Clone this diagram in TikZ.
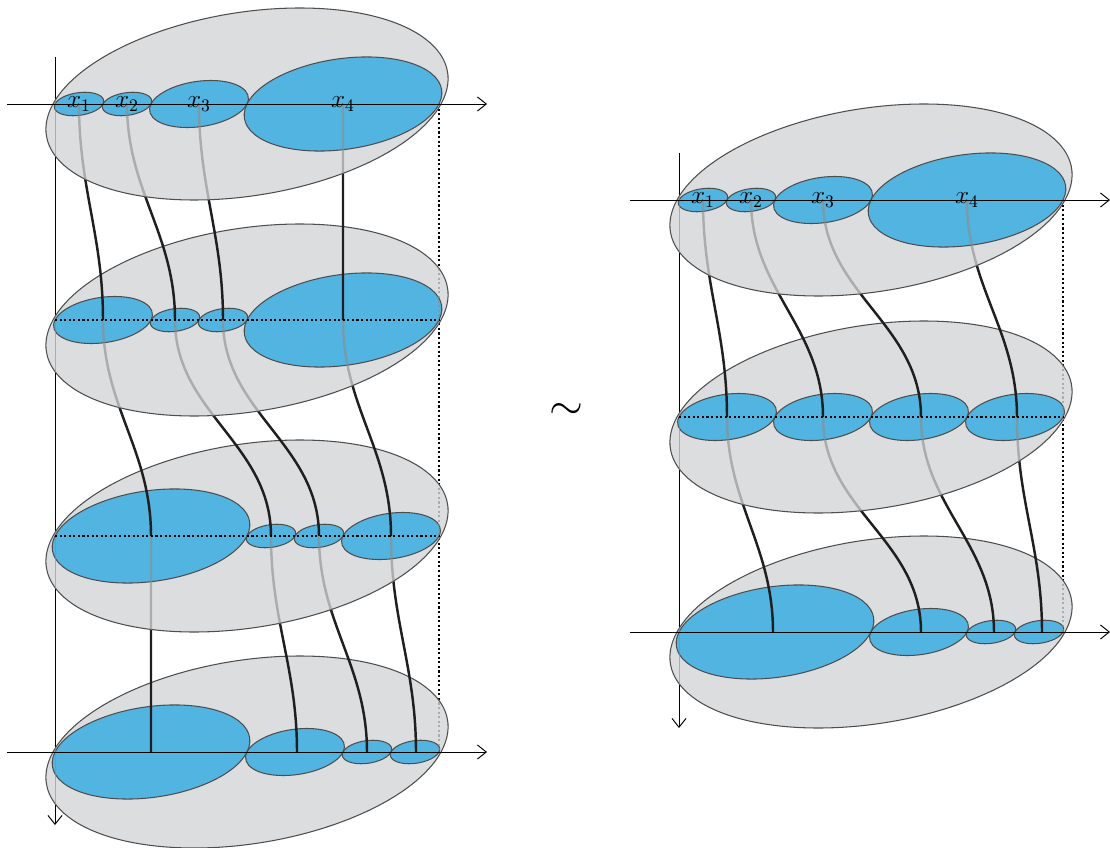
\documentclass[tikz,border=0pt]{standalone}
\usepackage{tikz}
\usetikzlibrary{arrows.meta}
\definecolor{cellblue}{RGB}{82,180,224}
\definecolor{plategray}{RGB}{220,221,223}
\definecolor{rim}{RGB}{78,78,78}
\newcommand{\drawplate}[2]{\filldraw[plate, shift={(#1,#2)}, xslant=0.55] (0,0) ellipse [x radius=194, y radius=96];}
\newcommand{\clipplate}[2]{\clip[shift={(#1,#2)}, xslant=0.55] (0,0) ellipse [x radius=194, y radius=96];}
\newcommand{\cellpatch}[3]{\filldraw[cell, shift={({(#1+#2)/2},#3)}, xslant=0.5] (0,0) ellipse [x radius={(#2-#1)/2}, y radius={0.49*(#2-#1)/2}];}
\newcommand{\fibresLa}{(p11) to[fall] (p21) (p12) to[fall] (p22) (p13) to[fall] (p23) (p14) to[fall] (p24)}
\newcommand{\fibresLb}{(p21) to[fall] (p31) (p22) to[fall] (p32) (p23) to[fall] (p33) (p24) to[fall] (p34)}
\newcommand{\fibresLc}{(p31) to[fall] (p41) (p32) to[fall] (p42) (p33) to[fall] (p43) (p34) to[fall] (p44)}
\newcommand{\fibresRa}{(q11) to[fall] (q21) (q12) to[fall] (q22) (q13) to[fall] (q23) (q14) to[fall] (q24)}
\newcommand{\fibresRb}{(q21) to[fall] (q31) (q22) to[fall] (q32) (q23) to[fall] (q33) (q24) to[fall] (q34)}
\newcommand{\seenthrough}{\draw[axis back] (lvt) -- (lvb) (rvt) -- (rvb); \draw[axis back, guide] (ldt) -- (ldb) (rdt) -- (rdb);}
\tikzset{
    plate/.style = {fill=plategray, draw=rim, line width=0.6pt},
    cell/.style = {fill=cellblue, draw=rim, line width=0.6pt},
    fall/.style = {out=-90, in=90},
    fibre/.style = {draw=black!88, line width=1.4pt},
    fibre back/.style = {draw=black!45, draw opacity=0.6, line width=1.4pt},
    arrowaxis/.style = {draw=black, line width=0.55pt, -{Straight Barb[length=5pt,width=8pt]}},
    axis back/.style = {draw=black!45, draw opacity=0.6, line width=0.55pt},
    guide/.style = {line width=0.6pt, dash pattern=on 1.2pt off 1.4pt},
    tag/.style = {font=\Large, inner sep=0pt}}
\begin{document}
\begin{tikzpicture}[x=0.02cm, y=-0.02cm]
\useasboundingbox (0,0) rectangle (1110,848);
% where the fibres meet the levels
\path (79,104) coordinate (p11) (127,104) coordinate (p12) (199,104) coordinate (p13) (343,104) coordinate (p14)
      (103,320) coordinate (p21) (175,320) coordinate (p22) (223,320) coordinate (p23) (343,320) coordinate (p24)
      (151,536) coordinate (p31) (271,536) coordinate (p32) (319,536) coordinate (p33) (391,536) coordinate (p34)
      (151,752) coordinate (p41) (297,752) coordinate (p42) (367,752) coordinate (p43) (416,752) coordinate (p44);
\path (703,200) coordinate (q11) (751,200) coordinate (q12) (823,200) coordinate (q13) (967,200) coordinate (q14)
      (727,417) coordinate (q21) (823,417) coordinate (q22) (921,417) coordinate (q23) (1017,417) coordinate (q24)
      (773,632) coordinate (q31) (921,632) coordinate (q32) (994,632) coordinate (q33) (1042,632) coordinate (q34);
% axis ends
\path (55,57) coordinate (lvt) (55,825) coordinate (lvb) (439,104) coordinate (ldt) (439,752) coordinate (ldb)
      (7,104) coordinate (lht) (487,104) coordinate (lhte) (7,752) coordinate (lhb) (487,752) coordinate (lhbe)
      (55,320) coordinate (lm2) (439,320) coordinate (lm2e) (55,536) coordinate (lm3) (439,536) coordinate (lm3e);
\path (679,153) coordinate (rvt) (679,728) coordinate (rvb) (1063,200) coordinate (rdt) (1063,632) coordinate (rdb)
      (630,200) coordinate (rht) (1110,200) coordinate (rhte) (630,632) coordinate (rhb) (1110,632) coordinate (rhbe)
      (679,417) coordinate (rm2) (1063,417) coordinate (rm2e);
\draw[arrowaxis] (lvt) -- (lvb);
\draw[arrowaxis] (rvt) -- (rvb);
\draw[guide] (ldt) -- (ldb) (rdt) -- (rdb);
% left, bottom up
\drawplate{247}{752}
\cellpatch{55}{247}{752}\cellpatch{247}{343}{752}\cellpatch{343}{391}{752}\cellpatch{391}{439}{752}
\begin{scope}\clipplate{247}{752}\seenthrough\end{scope}
\draw[fibre] \fibresLc;
\drawplate{247}{536}
\cellpatch{55}{247}{536}\cellpatch{247}{295}{536}\cellpatch{295}{343}{536}\cellpatch{343}{439}{536}
\begin{scope}\clipplate{247}{536}\seenthrough\draw[fibre back] \fibresLc;\end{scope}
\draw[fibre] \fibresLb;
\drawplate{247}{320}
\cellpatch{55}{151}{320}\cellpatch{151}{199}{320}\cellpatch{199}{247}{320}\cellpatch{247}{439}{320}
\begin{scope}\clipplate{247}{320}\seenthrough\draw[fibre back] \fibresLb;\end{scope}
\draw[fibre] \fibresLa;
\drawplate{247}{104}
\cellpatch{55}{103}{104}\cellpatch{103}{151}{104}\cellpatch{151}{247}{104}\cellpatch{247}{439}{104}
\begin{scope}\clipplate{247}{104}\seenthrough\draw[fibre back] \fibresLa;\end{scope}
% right, bottom up
\drawplate{871}{632}
\cellpatch{679}{871}{632}\cellpatch{871}{967}{632}\cellpatch{967}{1015}{632}\cellpatch{1015}{1063}{632}
\begin{scope}\clipplate{871}{632}\seenthrough\end{scope}
\draw[fibre] \fibresRb;
\drawplate{871}{417}
\cellpatch{679}{775}{417}\cellpatch{775}{871}{417}\cellpatch{871}{967}{417}\cellpatch{967}{1063}{417}
\begin{scope}\clipplate{871}{417}\seenthrough\draw[fibre back] \fibresRb;\end{scope}
\draw[fibre] \fibresRa;
\drawplate{871}{200}
\cellpatch{679}{727}{200}\cellpatch{727}{775}{200}\cellpatch{775}{871}{200}\cellpatch{871}{1063}{200}
\begin{scope}\clipplate{871}{200}\seenthrough\draw[fibre back] \fibresRa;\end{scope}
% axes and levels on top
\draw[arrowaxis] (lht) -- (lhte);
\draw[arrowaxis] (lhb) -- (lhbe);
\draw[arrowaxis] (rht) -- (rhte);
\draw[arrowaxis] (rhb) -- (rhbe);
\draw[guide] (lm2) -- (lm2e) (lm3) -- (lm3e) (rm2) -- (rm2e);
\node[tag] (lx1) at (p11) {$x_1$};
\node[tag] (lx2) at (p12) {$x_2$};
\node[tag] (lx3) at (p13) {$x_3$};
\node[tag] (lx4) at (p14) {$x_4$};
\node[tag] (rx1) at (q11) {$x_1$};
\node[tag] (rx2) at (q12) {$x_2$};
\node[tag] (rx3) at (q13) {$x_3$};
\node[tag] (rx4) at (q14) {$x_4$};
\node[font=\Huge] (sim) at (566,411) {$\sim$};
\end{tikzpicture}
\end{document}
